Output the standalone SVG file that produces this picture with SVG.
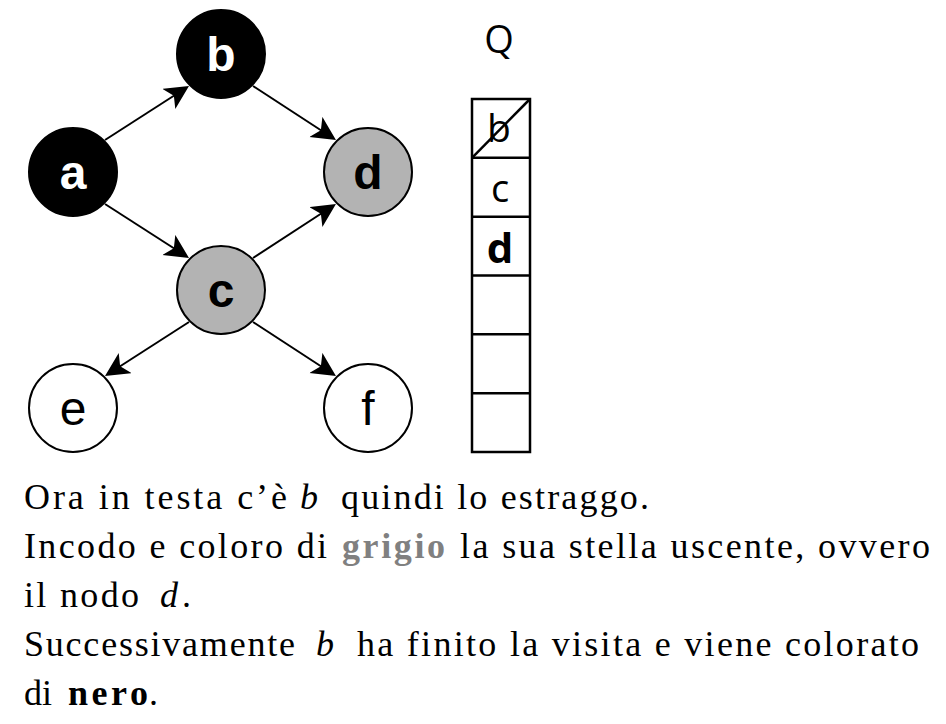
<svg xmlns="http://www.w3.org/2000/svg" width="946" height="724" viewBox="0 0 946 724">
<style>
.node{stroke:#000;stroke-width:2}
.lbl{font-family:"Liberation Sans",Arial,sans-serif;font-size:48px;text-anchor:middle}
.b{font-weight:bold}
.edge{stroke:#000;stroke-width:2;fill:none;marker-end:url(#arr)}
.q{font-family:"Open Sans","Noto Sans",sans-serif;text-anchor:middle}
.cell{fill:none;stroke:#000;stroke-width:2.5}
.txt{font-family:"Liberation Serif","Times New Roman",serif;font-size:36px;fill:#000}
.it{font-style:italic}
.grey{fill:#808080;font-weight:bold}
.bold{font-weight:bold}
</style>
<defs>
<marker id="arr" markerUnits="userSpaceOnUse" markerWidth="26" markerHeight="26" refX="12" refY="12" orient="auto" viewBox="0 0 26 26">
<path d="M0,0 L24,12 L0,24 L6,12 Z" fill="#000"/>
</marker>
</defs>
<rect width="946" height="724" fill="#fff"/>
<g id="connectors">
<path class="edge" d="M105,140 L178.9,92.5"/>
<path class="edge" d="M253,86 L325.9,133.5"/>
<path class="edge" d="M105,204 L178.9,251.5"/>
<path class="edge" d="M253,258 L325.9,210.5"/>
<path class="edge" d="M189,322 L115.1,369.5"/>
<path class="edge" d="M253,322 L325.9,369.5"/>
</g>
<g id="node-a"><circle class="node" cx="73" cy="172" r="44" fill="#000"/><text class="lbl b" x="73" y="189" fill="#fff">a</text></g>
<g id="node-b"><circle class="node" cx="221" cy="54" r="44" fill="#000"/><text class="lbl b" x="221" y="71" fill="#fff">b</text></g>
<g id="node-c"><circle class="node" cx="221" cy="290" r="44" fill="#b3b3b3"/><text class="lbl b" x="221" y="307" fill="#000">c</text></g>
<g id="node-d"><circle class="node" cx="368" cy="172" r="44" fill="#b3b3b3"/><text class="lbl b" x="368" y="189" fill="#000">d</text></g>
<g id="node-e"><circle class="node" cx="73" cy="408" r="44" fill="#fff"/><text class="lbl" x="73" y="425" fill="#000">e</text></g>
<g id="node-f"><circle class="node" cx="368" cy="408" r="44" fill="#fff"/><text class="lbl" x="368" y="425" fill="#000">f</text></g>
<g id="queue">
<text class="q" x="499" y="53" font-size="38">Q</text>
<rect class="cell" x="472" y="99" width="58" height="353"/>
<path class="cell" d="M472,157.8 H530 M472,216.7 H530 M472,275.5 H530 M472,334.3 H530 M472,393.2 H530"/>
<text class="q" x="499" y="142" font-size="39">b</text>
<path class="cell" d="M472,157.8 L530,99"/>
<text class="q" x="500" y="202" font-size="38">c</text>
<text class="q" x="500" y="263" font-size="42" font-weight="bold">d</text>
</g>
<g id="caption">
<text class="txt" x="24" y="509" textLength="263" lengthAdjust="spacing">Ora in testa c’è</text>
<text class="txt it" x="300" y="509">b</text>
<text class="txt" x="341" y="509" textLength="308" lengthAdjust="spacing">quindi lo estraggo.</text>

<text class="txt" x="24" y="558" textLength="303" lengthAdjust="spacing">Incodo e coloro di</text>
<text class="txt grey" x="342" y="558" textLength="103" lengthAdjust="spacing">grigio</text>
<text class="txt" x="460" y="558" textLength="470" lengthAdjust="spacing">la sua stella uscente, ovvero</text>

<text class="txt" x="24" y="607" textLength="115" lengthAdjust="spacing">il nodo</text>
<text class="txt it" x="160" y="607">d</text>
<text class="txt" x="182" y="607">.</text>

<text class="txt" x="24" y="656" textLength="271" lengthAdjust="spacing">Successivamente</text>
<text class="txt it" x="316" y="656">b</text>
<text class="txt" x="357" y="656" textLength="562" lengthAdjust="spacing">ha finito la visita e viene colorato</text>

<text class="txt" x="24" y="705">di</text>
<text class="txt bold" x="68" y="705" textLength="80" lengthAdjust="spacing">nero</text>
<text class="txt" x="149" y="705">.</text>
</g>
</svg>
